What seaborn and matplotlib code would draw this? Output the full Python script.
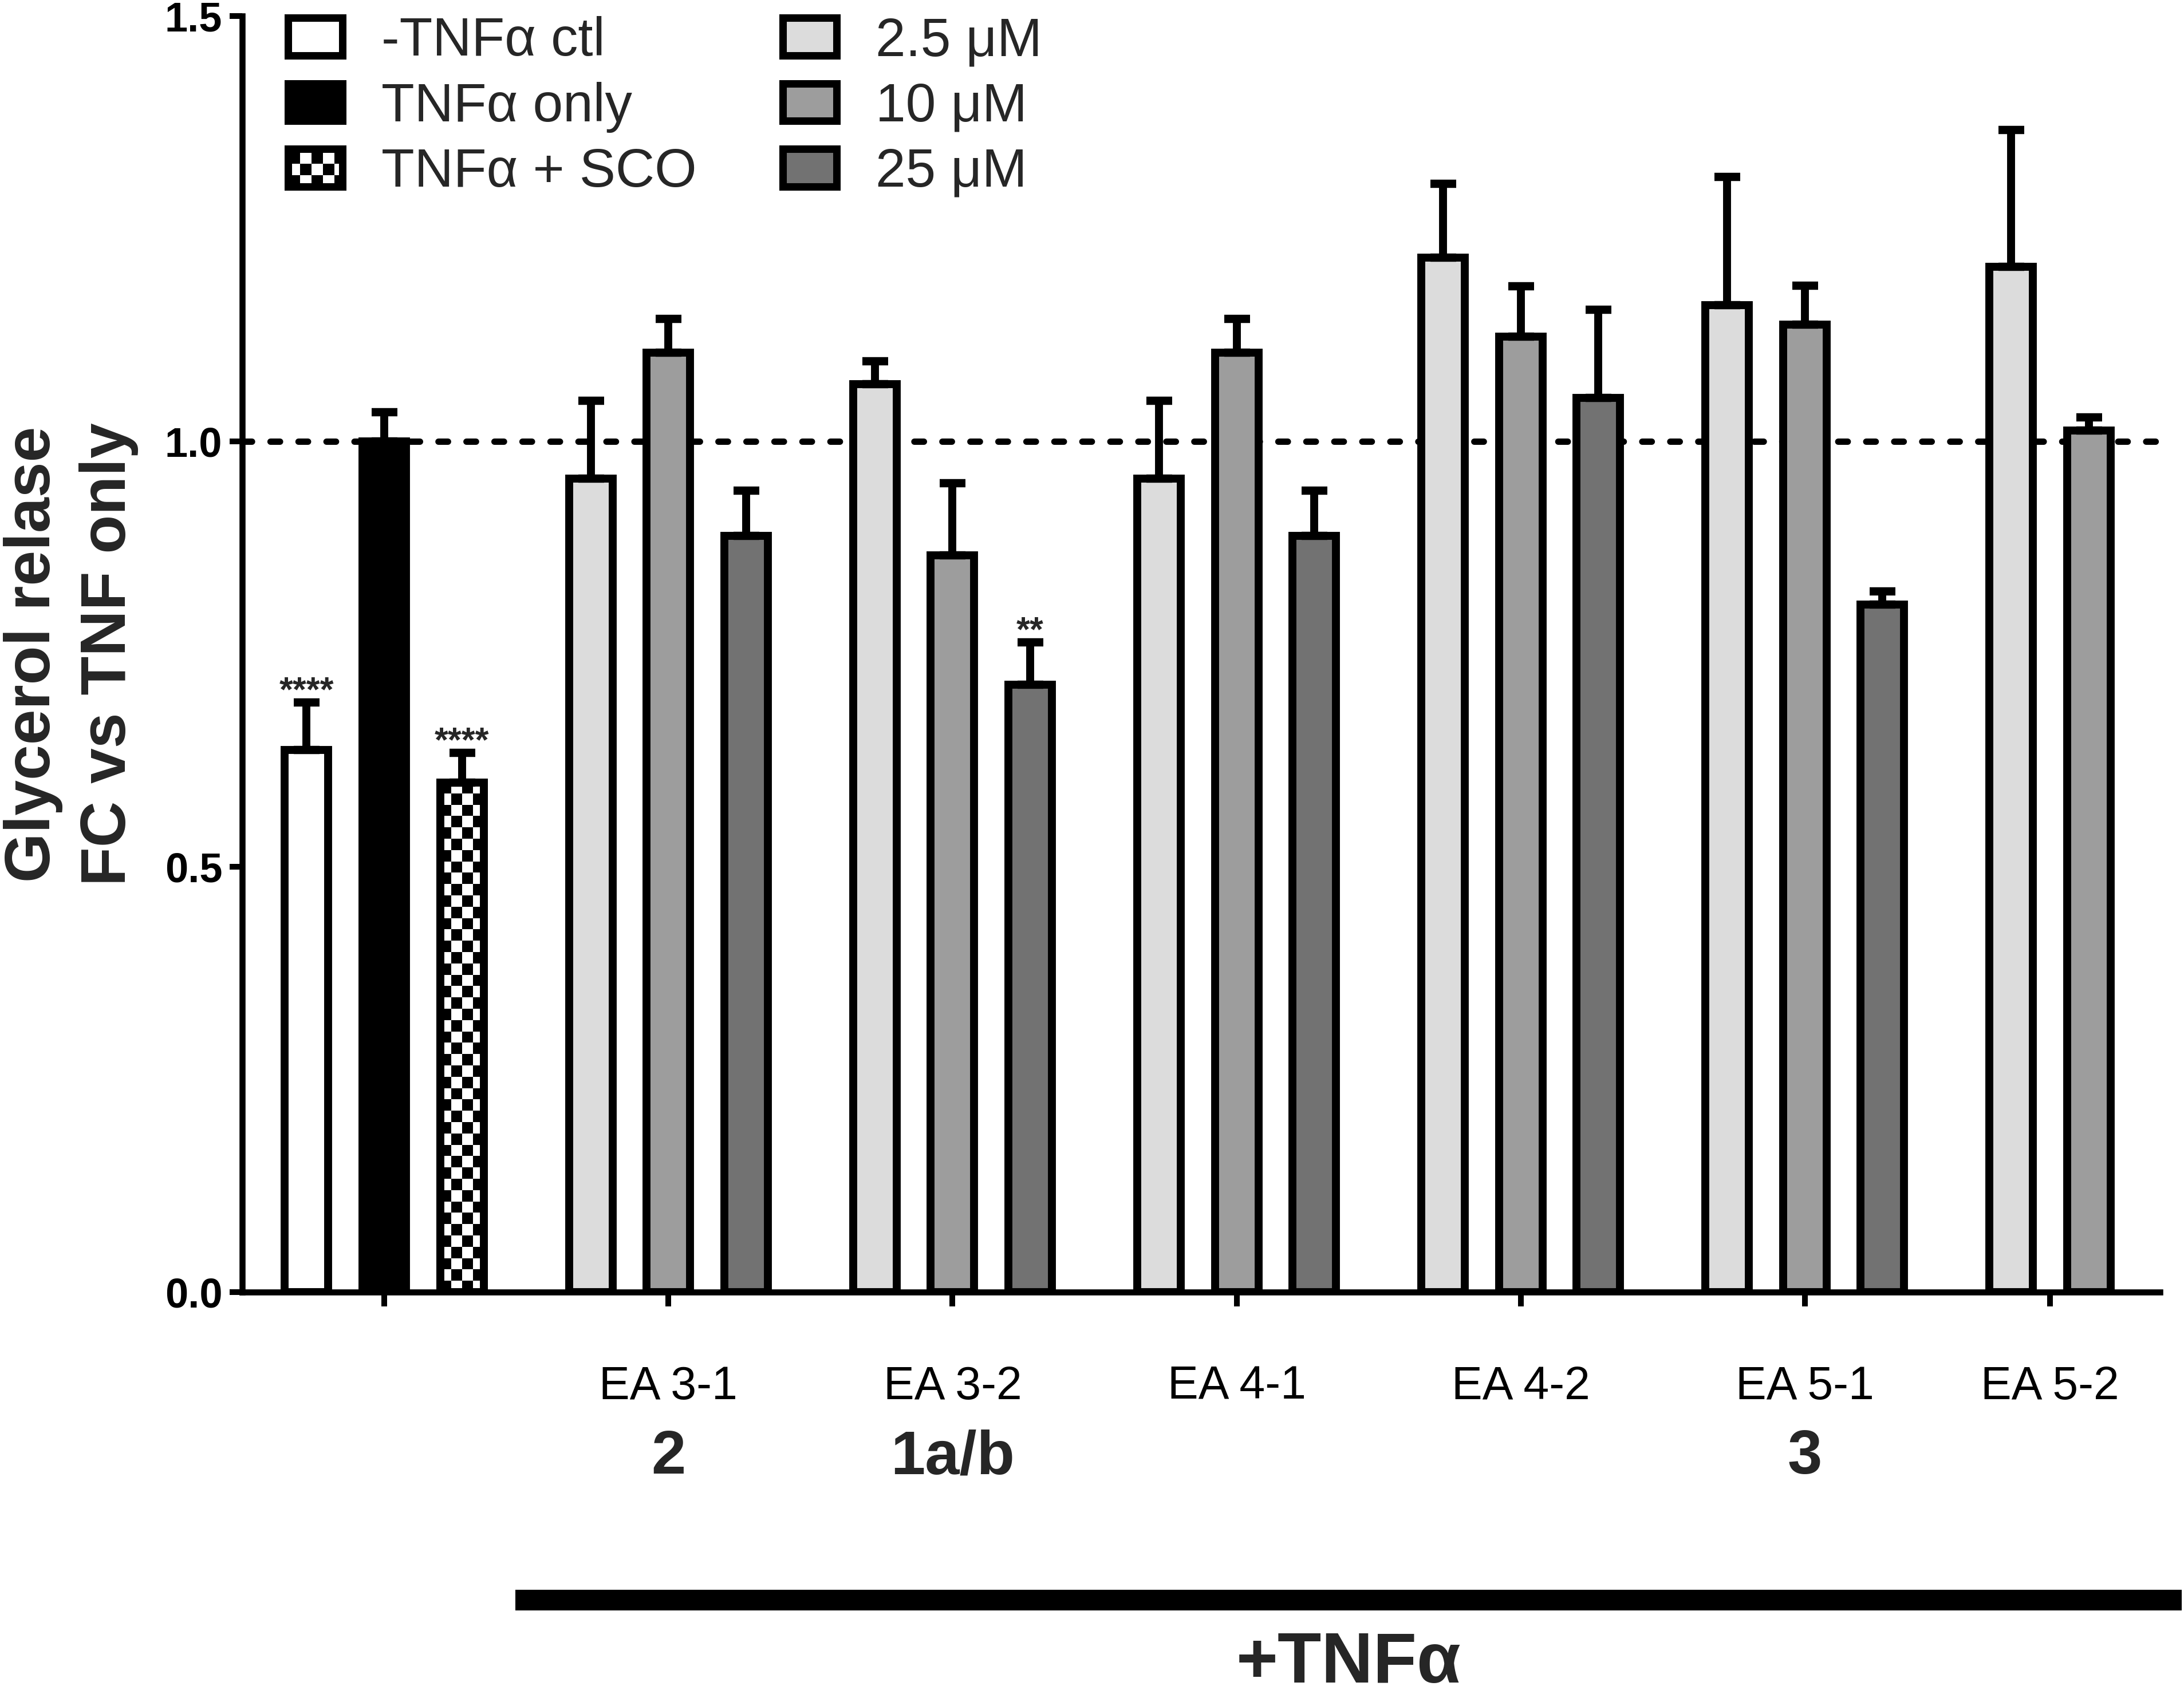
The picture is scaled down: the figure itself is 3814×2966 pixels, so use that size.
import numpy as np
import pandas as pd
import matplotlib
matplotlib.use("Agg")
import matplotlib.pyplot as plt
import matplotlib.transforms as mtransforms
from matplotlib.patches import Patch, Rectangle
from matplotlib.legend_handler import HandlerBase
from matplotlib.lines import Line2D
import seaborn as sns

# ---------------- data ----------------
groups = ["ctl", "EA 3-1", "EA 3-2", "EA 4-1", "EA 4-2", "EA 5-1", "EA 5-2"]
group_tick_labels = ["", "EA 3-1", "EA 3-2", "EA 4-1", "EA 4-2", "EA 5-1", "EA 5-2"]
compound_labels = ["", "2", "1a/b", "", "", "3", ""]
slots = ["s1", "s2", "s3"]

# slot 1: -TNFα ctl (control group) / 2.5 µM (EA groups)
slot1_mean = [0.637, 0.956, 1.067, 0.956, 1.216, 1.160, 1.205]
slot1_sem = [0.056, 0.092, 0.027, 0.092, 0.087, 0.151, 0.161]
# slot 2: TNFα only / 10 µM
slot2_mean = [1.000, 1.104, 0.866, 1.104, 1.123, 1.137, 1.013]
slot2_sem = [0.034, 0.040, 0.085, 0.040, 0.059, 0.046, 0.015]
# slot 3: TNFα + SCO / 25 µM
slot3_mean = [0.599, 0.889, 0.714, 0.889, 1.051, 0.808, np.nan]
slot3_sem = [0.035, 0.053, 0.050, 0.053, 0.104, 0.016, np.nan]

control_labels = ["-TNFα ctl", "TNFα only", "TNFα + SCO"]
dose_labels = ["2.5 μM", "10 μM", "25 μM"]
significance = [("ctl", "s1", "****"), ("ctl", "s3", "****"), ("EA 3-2", "s3", "**")]

reference_line = 1.0
y_ticks = [0.0, 0.5, 1.0, 1.5]

# ---------------- style ----------------
dose_colors = ["#dcdcdc", "#9d9d9d", "#727272"]
control_colors = ["white", "black", "white"]
EDGE_LW = 5.0
DPI = 200

sns.set_style("ticks")
plt.rcParams["font.family"] = ["Liberation Sans", "DejaVu Sans"]

means = [slot1_mean, slot2_mean, slot3_mean]
sems = [slot1_sem, slot2_sem, slot3_sem]
df = pd.DataFrame({
    "group": [g for s in slots for g in groups],
    "slot": [s for s in slots for g in groups],
    "value": [v for m in means for v in m],
})

fig = plt.figure(figsize=(3814 / DPI, 2966 / DPI), dpi=DPI)
ax = fig.add_axes([0.1109, 0.2390, 0.8781, 0.7516])

BAR_GROUP_WIDTH = 0.82
sns.barplot(data=df, x="group", y="value", hue="slot", order=groups,
            hue_order=slots, palette=dose_colors, width=BAR_GROUP_WIDTH,
            gap=0.44, errorbar=None, edgecolor="black", linewidth=EDGE_LW,
            saturation=1, legend=False, ax=ax)

slot_w = BAR_GROUP_WIDTH / len(slots)
bar_info = []  # (bar, gi, si)
for bar in ax.patches:
    cx = bar.get_x() + bar.get_width() / 2
    gi = int(round(cx))
    si = int(round((cx - gi) / slot_w)) + 1
    bar_info.append((bar, gi, si))
    if gi == 0:
        bar.set_facecolor(control_colors[si])
    bar.set_edgecolor("black")
    bar.set_linewidth(EDGE_LW)

ax.set_xlim(-0.5, 6.25)
ax.set_ylim(0, 1.5)

# dashed reference line
ax.axhline(reference_line, color="black", lw=4.0, dashes=(1.5, 2.9),
           dash_capstyle="round", zorder=0.8)

# error bars (upper only)
ex, ey, ee = [], [], []
for bar, gi, si in bar_info:
    ex.append(bar.get_x() + bar.get_width() / 2)
    ey.append(bar.get_height())
    ee.append(sems[si][gi])
ax.errorbar(ex, ey, yerr=[np.zeros(len(ee)), ee], fmt="none", ecolor="black",
            elinewidth=5.0, capsize=8.1, capthick=5.2, zorder=3)

# significance stars
for g, s, txt in significance:
    gi, si = groups.index(g), slots.index(s)
    for bar, bgi, bsi in bar_info:
        if bgi == gi and bsi == si:
            x = bar.get_x() + bar.get_width() / 2
            ax.annotate(txt, xy=(x, bar.get_height() + sems[si][gi]),
                        xytext=(0, 1), textcoords="offset points",
                        ha="center", va="baseline", fontsize=22,
                        fontweight="bold")

# checkerboard for SCO bar
for bar, gi, si in bar_info:
    if gi == 0 and si == 2:
        x0, w, h = bar.get_x(), bar.get_width(), bar.get_height()
        p0 = ax.transData.transform((x0, 0))
        p1 = ax.transData.transform((x0 + w, h))
        cell = 20.0
        ncol = max(1, int(round((p1[0] - p0[0]) / cell)))
        nrow = max(1, int(round((p1[1] - p0[1]) / cell)))
        checker = (np.add.outer(np.arange(nrow), np.arange(ncol)) % 2).astype(float)
        im = ax.imshow(checker, cmap="gray", vmin=0, vmax=1,
                       extent=(x0, x0 + w, 0, h), aspect="auto",
                       interpolation="nearest", zorder=bar.get_zorder() + 0.05)
        im.set_clip_path(bar)
        ax.add_patch(Rectangle((x0, 0), w, h, fill=False, ec="black",
                               lw=EDGE_LW, zorder=bar.get_zorder() + 0.1))
ax.set_xlim(-0.5, 6.25)
ax.set_ylim(0, 1.5)

# ticks
tick_pos = []
for gi in range(len(groups)):
    cs = [b.get_x() + b.get_width() / 2 for b, g, s in bar_info if g == gi]
    if gi == 0:
        tick_pos.append(0.0)
    else:
        tick_pos.append(float(np.mean(cs)))
ax.set_xticks(tick_pos)
ax.set_xticklabels(group_tick_labels)
ax.set_yticks(y_ticks)
ax.set_yticklabels([f"{v:.1f}" for v in y_ticks])
ax.tick_params(axis="x", length=9, width=3.6, pad=37, labelsize=29,
               color="black", labelcolor="black")
ax.tick_params(axis="y", length=8, width=3.6, pad=4.5, labelsize=26,
               color="black", labelcolor="black")
for lbl in ax.get_yticklabels():
    lbl.set_fontweight("bold")

for sp in ["top", "right"]:
    ax.spines[sp].set_visible(False)
for sp in ["left", "bottom"]:
    ax.spines[sp].set_linewidth(3.8)
    ax.spines[sp].set_color("black")

ax.set_xlabel("")
ax.set_ylabel("Glycerol relase\nFC vs TNF only", fontsize=40,
              fontweight="bold", linespacing=1.35)
ax.yaxis.set_label_coords(-0.054, 0.5)

# compound numbers
trans = mtransforms.blended_transform_factory(ax.transData, ax.transAxes)
for pos, lab in zip(tick_pos, compound_labels):
    if lab:
        ax.text(pos, -0.1422, lab, transform=trans, ha="center",
                va="baseline", fontsize=39, fontweight="bold")


# legend
class CheckerHandler(HandlerBase):
    def create_artists(self, legend, orig_handle, xdescent, ydescent,
                       width, height, fontsize, trans):
        x0, y0 = -xdescent, -ydescent
        arts = [Rectangle((x0, y0), width, height, facecolor="white",
                          edgecolor="none", transform=trans)]
        cell = 7.2
        ncol = int(np.ceil(width / cell))
        nrow = int(np.ceil(height / cell))
        for i in range(nrow):
            for j in range(ncol):
                if (i + j) % 2 == 0:
                    cw = min(cell, width - j * cell)
                    ch = min(cell, height - i * cell)
                    arts.append(Rectangle((x0 + j * cell, y0 + i * cell), cw, ch,
                                          facecolor="black", edgecolor="none",
                                          transform=trans))
        arts.append(Rectangle((x0, y0), width, height, facecolor="none",
                              edgecolor="black", lw=4.7, transform=trans))
        return arts


checker_handle = Patch(facecolor="white", edgecolor="black", linewidth=4.7)
handles = [Patch(facecolor=control_colors[0], edgecolor="black", linewidth=4.7),
           Patch(facecolor=control_colors[1], edgecolor="black", linewidth=4.7),
           checker_handle] + \
          [Patch(facecolor=c, edgecolor="black", linewidth=4.7) for c in dose_colors]
labels = control_labels + dose_labels
ax.legend(handles, labels, ncol=2, loc="upper left",
          bbox_to_anchor=(503.5 / 3814, 1 - 28 / 2966),
          bbox_transform=fig.transFigure, frameon=False, fontsize=34,
          handlelength=1.0, handleheight=0.69, handletextpad=0.72,
          columnspacing=1.59, labelspacing=0.27, borderpad=0,
          borderaxespad=0, handler_map={checker_handle: CheckerHandler()})

# +TNFα bar and label
fig.add_artist(Line2D([0.236, 0.999], [0.0577, 0.0577],
                      transform=fig.transFigure, color="black", lw=13,
                      solid_capstyle="butt"))
fig.text(0.6175, 0.009, "+TNFα", ha="center", va="baseline", fontsize=45,
         fontweight="bold")

fig.savefig("out.png", dpi=DPI)
